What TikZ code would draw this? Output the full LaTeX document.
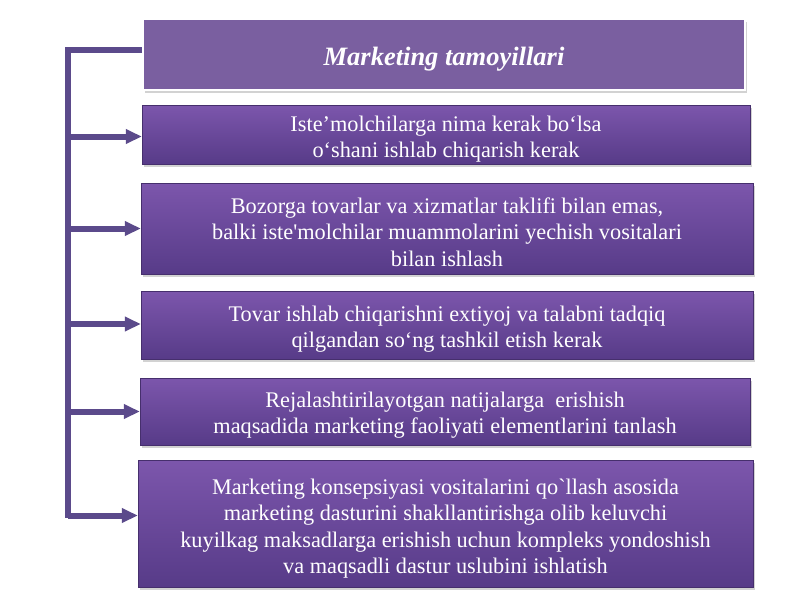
\documentclass[tikz,border=0pt]{standalone}
\usepackage{fontspec}
\setmainfont{Liberation Serif}
\usetikzlibrary{shadows,arrows.meta}
\definecolor{boxtop}{HTML}{7C56AC}
\definecolor{boxbot}{HTML}{573B88}
\definecolor{titlefill}{HTML}{7A5FA0}
\definecolor{connc}{HTML}{5B4A8B}
\tikzset{
  pbox/.style={rectangle, inner sep=0pt, top color=boxtop, bottom color=boxbot,
    draw=boxbot!80!black, line width=0.4pt,
    drop shadow={opacity=0.35, shadow xshift=2pt, shadow yshift=-3pt}},
  ptext/.style={inner sep=0pt, text=white, align=center, font=\fontsize{22.3}{26.3}\selectfont},
  titlebox/.style={rectangle, inner sep=0pt, fill=titlefill, draw=white, line width=2.5pt,
    drop shadow={opacity=0.35, shadow xshift=2pt, shadow yshift=-3pt}},
  titletext/.style={inner sep=0pt, text=white, font=\fontsize{26.5}{30}\selectfont\bfseries\itshape},
  conn/.style={draw=connc, line width=6pt, line join=miter},
  arr/.style={conn, -{Triangle[length=16pt,width=14pt]}}
}
\begin{document}
\begin{tikzpicture}[x=1pt,y={(0pt,-1pt)}]
\useasboundingbox[fill=white] (0,0) rectangle (800,600);
\node[titlebox, minimum width=602pt, minimum height=71pt] (title) at (444,54.5) {};
\node[titletext] (titlet) at ([yshift=-5pt]title.center) {Marketing tamoyillari};
\node[pbox, minimum width=608pt, minimum height=59pt] (b1) at (446,134.5) {};
\node[ptext] (b1t) at ([yshift=-4.5pt]b1.center)
  {Iste’molchilarga nima kerak bo‘lsa\\o‘shani ishlab chiqarish kerak};
\node[pbox, minimum width=612pt, minimum height=91pt] (b2) at (447,228.5) {};
\node[ptext] (b2t) at ([yshift=-3.5pt]b2.center)
  {Bozorga tovarlar va xizmatlar taklifi bilan emas,\\balki iste\textquotesingle molchilar muammolarini yechish vositalari\\bilan ishlash};
\node[pbox, minimum width=612pt, minimum height=68pt] (b3) at (447,325) {};
\node[ptext] (b3t) at ([yshift=-4pt]b3.center)
  {Tovar ishlab chiqarishni extiyoj va talabni tadqiq\\qilgandan so‘ng tashkil etish kerak};
\node[pbox, minimum width=610pt, minimum height=67pt] (b4) at (445,411.5) {};
\node[ptext] (b4t) at ([yshift=-4pt]b4.center)
  {Rejalashtirilayotgan natijalarga\ \ erishish\\maqsadida marketing faoliyati elementlarini tanlash};
\node[pbox, minimum width=615pt, minimum height=127pt] (b5) at (445.5,523.5) {};
\node[ptext] (b5t) at ([yshift=-5pt]b5.center)
  {Marketing konsepsiyasi vositalarini qo\textasciigrave llash asosida\\marketing dasturini shakllantirishga olib keluvchi\\kuyilkag maksadlarga erishish uchun kompleks yondoshish\\va maqsadli dastur uslubini ishlatish};
\coordinate (stop) at (68,50);
\coordinate (sbot) at (68,518);
\draw[conn] ([yshift=4.5pt]title.west) -- (stop) -- (sbot);
\draw[arr] ([yshift=-2pt]stop |- b1.west) -- ([yshift=-2pt]b1.west);
\draw[arr] (stop |- b2.west) -- (b2.west);
\draw[arr] ([yshift=1pt]stop |- b3.west) -- ([yshift=1pt]b3.west);
\draw[arr] (stop |- b4.west) -- (b4.west);
\draw[arr] ([yshift=8pt]stop |- b5.west) -- ([yshift=8pt]b5.west);
\end{tikzpicture}
\end{document}
